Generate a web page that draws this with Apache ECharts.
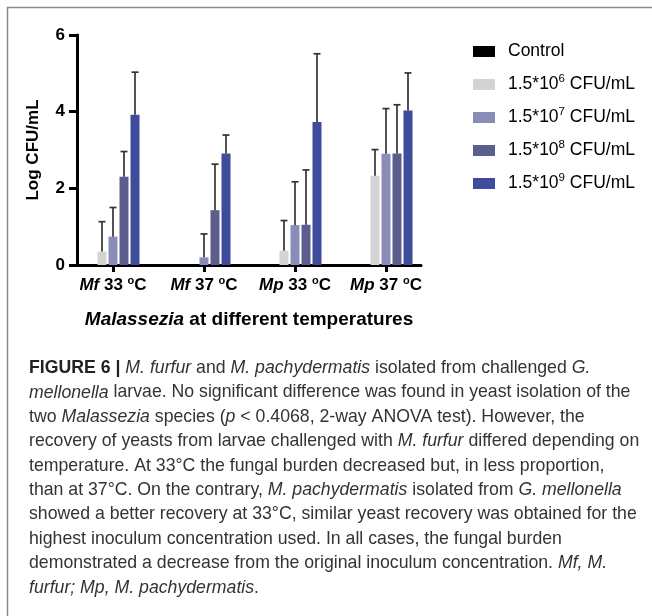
<!DOCTYPE html>
<html>
<head>
<meta charset="utf-8">
<script src="https://cdn.jsdelivr.net/npm/echarts@6/dist/echarts.min.js"></script>
<style>
html,body{margin:0;padding:0;background:#fff;}
#chart{width:652px;height:616px;}
</style>
</head>
<body>
<div id="chart"></div>
<script>
// ---------- DATA ----------
const species = ['Mf', 'Mf', 'Mp', 'Mp'];
const temps = ['33', '37', '33', '37'];
const seriesLabels = ['Control', '1.5*10^6 CFU/mL', '1.5*10^7 CFU/mL', '1.5*10^8 CFU/mL', '1.5*10^9 CFU/mL'];
const controlMean = [0, 0, 0, 0];
const controlSD = [0, 0, 0, 0];
const c6Mean = [0.35, 0, 0.37, 2.33];
const c6SD = [0.78, 0, 0.79, 0.68];
const c7Mean = [0.74, 0.20, 1.04, 2.90];
const c7SD = [0.76, 0.61, 1.13, 1.18];
const c8Mean = [2.30, 1.43, 1.05, 2.91];
const c8SD = [0.66, 1.20, 1.43, 1.27];
const c9Mean = [3.92, 2.91, 3.73, 4.03];
const c9SD = [1.11, 0.48, 1.78, 0.98];
const yMin = 0, yMax = 6, yStep = 2;
const yTitle = 'Log CFU/mL';
const xTitleItalic = 'Malassezia';
const xTitleRest = ' at different temperatures';

// ---------- STYLE ----------
const colors = ['#000000', '#d3d3d3', '#8b8db9', '#5b5d8d', '#3f4b9b'];
const FONT = '"Liberation Sans", Arial, sans-serif';
const BAR_W = 9, BAR_GAP = 2;
const categories = species.map((s, i) => s + '|' + temps[i]);
const means = [controlMean, c6Mean, c7Mean, c8Mean, c9Mean];
const sds = [controlSD, c6SD, c7SD, c8SD, c9SD];

const barSeries = seriesLabels.map((name, k) => ({
  name: name,
  type: 'bar',
  xAxisIndex: 0, yAxisIndex: 0,
  barWidth: BAR_W,
  barGap: (BAR_GAP / BAR_W * 100) + '%',
  itemStyle: { color: colors[k] },
  data: means[k],
  z: 2
}));

const errSeries = seriesLabels.map((name, k) => ({
  name: 'err' + k,
  type: 'custom',
  xAxisIndex: 0, yAxisIndex: 0,
  z: 3,
  silent: true,
  data: means[k].map((m, i) => [i, m, sds[k][i]]),
  renderItem: function (params, api) {
    const i = api.value(0), m = api.value(1), sd = api.value(2);
    if (!sd) return null;
    const p0 = api.coord([i, m]);
    const p1 = api.coord([i, m + sd]);
    const x = p0[0] + (k - 2) * (BAR_W + BAR_GAP);
    const st = { stroke: '#333', lineWidth: 1.7 };
    return {
      type: 'group',
      children: [
        { type: 'line', shape: { x1: x, y1: p0[1], x2: x, y2: p1[1] }, style: st },
        { type: 'line', shape: { x1: x - 3.5, y1: p1[1], x2: x + 3.5, y2: p1[1] }, style: st }
      ]
    };
  }
}));

const captionLines = [
  '{b|FIGURE 6 |} {i|M. furfur} and {i|M. pachydermatis} isolated from challenged {i|G.}',
  '{i|mellonella} larvae. No significant difference was found in yeast isolation of the',
  'two {i|Malassezia} species ({i|p} < 0.4068, 2-way ANOVA test). However, the',
  'recovery of yeasts from larvae challenged with {i|M. furfur} differed depending on',
  'temperature. At 33°C the fungal burden decreased but, in less proportion,',
  'than at 37°C. On the contrary, {i|M. pachydermatis} isolated from {i|G. mellonella}',
  'showed a better recovery at 33°C, similar yeast recovery was obtained for the',
  'highest inoculum concentration used. In all cases, the fungal burden',
  'demonstrated a decrease from the original inoculum concentration. {i|Mf, M.}',
  '{i|furfur; Mp, M. pachydermatis}.'
];

const chart = echarts.init(document.getElementById('chart'), null, { renderer: 'canvas' });
chart.setOption({
  backgroundColor: '#fff',
  animation: false,
  textStyle: { fontFamily: FONT },
  grid: [
    { left: 67.5, width: 364, top: 35, height: 230 },
    { left: 77, width: 344, top: 35, height: 230 }
  ],
  legend: {
    orient: 'vertical',
    left: 473, top: 39.5,
    padding: 0,
    itemWidth: 22, itemHeight: 11, itemGap: 9,
    icon: 'rect',
    data: seriesLabels,
    selectedMode: false,
    formatter: function (name) {
      const m = name.match(/^(.*)\^(\d+)(.*)$/);
      if (!m) return name;
      return m[1] + '{sup|' + m[2] + '}' + m[3];
    },
    textStyle: {
      fontSize: 17.5, color: '#000', fontFamily: FONT, lineHeight: 24,
      padding: [0, 0, 0, 8],
      rich: {
        sup: { fontSize: 11.5, fontFamily: FONT, color: '#000', verticalAlign: 'top', lineHeight: 6 }
      }
    }
  },
  xAxis: [
    {
      type: 'category', gridIndex: 0, data: categories,
      axisLine: { show: false },
      axisTick: { show: true, alignWithLabel: true, length: 7, lineStyle: { color: '#000', width: 3 } },
      axisLabel: {
        interval: 0,
        margin: 10,
        fontSize: 17, fontWeight: 'bold', color: '#000', fontFamily: FONT, lineHeight: 20,
        formatter: function (v) {
          const p = v.split('|');
          return '{i|' + p[0] + '} ' + p[1] + ' {sup|o}C';
        },
        rich: {
          i: { fontStyle: 'italic', fontWeight: 'bold', fontSize: 17, fontFamily: FONT, color: '#000', lineHeight: 20 },
          sup: { fontWeight: 'bold', fontSize: 11, fontFamily: FONT, color: '#000', verticalAlign: 'top', lineHeight: 10 }
        }
      },
      splitLine: { show: false }
    },
    {
      type: 'value', gridIndex: 1, min: 0, max: 1,
      axisLine: { show: true, lineStyle: { color: '#000', width: 3 } },
      axisTick: { show: false }, axisLabel: { show: false }, splitLine: { show: false },
      name: '{i|' + xTitleItalic + '}' + xTitleRest,
      nameLocation: 'middle', nameGap: 45,
      nameTextStyle: {
        fontSize: 19, fontWeight: 'bold', color: '#000', fontFamily: FONT,
        rich: { i: { fontStyle: 'italic', fontWeight: 'bold', fontSize: 19, fontFamily: FONT, color: '#000' } }
      }
    }
  ],
  yAxis: [
    {
      type: 'value', gridIndex: 0, min: yMin, max: yMax, interval: yStep,
      show: false, splitLine: { show: false }
    },
    {
      type: 'value', gridIndex: 1, min: yMin, max: yMax, interval: yStep,
      axisLine: { show: true, lineStyle: { color: '#000', width: 3 } },
      axisTick: { show: true, length: 8, lineStyle: { color: '#000', width: 3 } },
      axisLabel: { margin: 12, fontSize: 17, fontWeight: 'bold', color: '#000', fontFamily: FONT },
      splitLine: { show: false },
      name: yTitle, nameLocation: 'middle', nameGap: 35, nameRotate: 90,
      nameTextStyle: { fontSize: 17, fontWeight: 'bold', color: '#000', fontFamily: FONT }
    }
  ],
  graphic: [
    { type: 'line', shape: { x1: 7, y1: 7.5, x2: 652, y2: 7.5 }, style: { stroke: '#8a8a8a', lineWidth: 1.5 }, silent: true },
    { type: 'line', shape: { x1: 7.5, y1: 7, x2: 7.5, y2: 616 }, style: { stroke: '#8a8a8a', lineWidth: 1.5 }, silent: true },
    {
      type: 'text', left: 29, top: 356, silent: true,
      style: {
        text: captionLines.join('\n'),
        fontSize: 17.7, fontFamily: FONT, fill: '#333', lineHeight: 24.4,
        rich: {
          b: { fontWeight: 'bold', fontSize: 17.7, fontFamily: FONT, fill: '#222', lineHeight: 24.4 },
          i: { fontStyle: 'italic', fontSize: 17.7, fontFamily: FONT, fill: '#333', lineHeight: 24.4 }
        }
      }
    }
  ],
  series: barSeries.concat(errSeries)
});
</script>
</body>
</html>
